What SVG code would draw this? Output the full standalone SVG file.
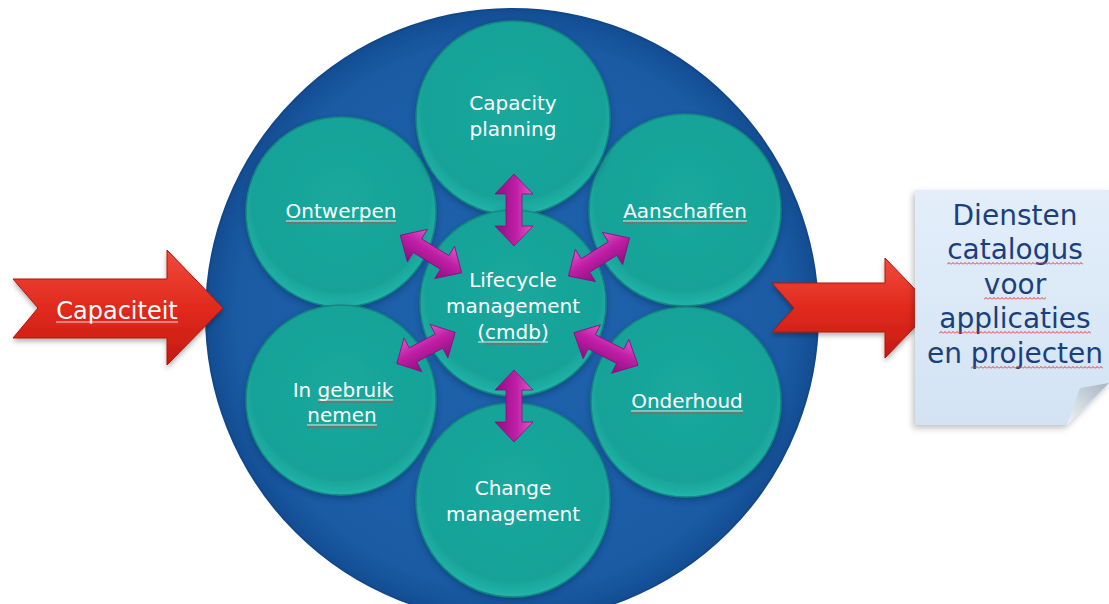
<svg xmlns="http://www.w3.org/2000/svg" xmlns:xlink="http://www.w3.org/1999/xlink" width="1109" height="604" viewBox="0 0 1109 604">
<defs>
<style>
.lbl{font-family:"DejaVu Sans",Verdana,sans-serif;font-size:20px;fill:#ffffff;text-anchor:middle}
.cap{font-size:24px}
.doc{font-family:"DejaVu Sans",Verdana,sans-serif;font-size:28px;fill:#1b3f7e;text-anchor:middle}
.ul{stroke:#ffffff;stroke-width:1;opacity:.85}
.sq{fill:url(#sqp)}
.teal{fill:url(#tg);stroke:#12867f;stroke-width:1.5;filter:url(#sh)}
.dbl{fill:url(#mg);stroke:#86107a;stroke-width:.8}
.red{fill:url(#rg);stroke:#b3150c;stroke-width:1;filter:url(#sh2)}
</style>
<radialGradient id="bg" cx="0.5" cy="0.5" r="0.5">
<stop offset="0" stop-color="#1f64ae"/>
<stop offset="0.9" stop-color="#1a5ba4"/>
<stop offset="1" stop-color="#134d92"/>
</radialGradient>
<radialGradient id="tg" cx="0.5" cy="0.45" r="0.55">
<stop offset="0" stop-color="#1aa89d"/>
<stop offset="0.85" stop-color="#18a298"/>
<stop offset="1" stop-color="#22b5aa"/>
</radialGradient>
<linearGradient id="mg" x1="0" y1="0" x2="0" y2="1">
<stop offset="0" stop-color="#e058c8"/>
<stop offset="0.45" stop-color="#bf1ea5"/>
<stop offset="1" stop-color="#8e0d80"/>
</linearGradient>
<linearGradient id="rg" x1="0" y1="0" x2="0" y2="1">
<stop offset="0" stop-color="#f04a3c"/>
<stop offset="0.5" stop-color="#e12a1e"/>
<stop offset="1" stop-color="#c51a10"/>
</linearGradient>
<linearGradient id="pg" x1="0" y1="0" x2="0" y2="1">
<stop offset="0" stop-color="#e3eefa"/>
<stop offset="1" stop-color="#d3e3f3"/>
</linearGradient>
<linearGradient id="fg" x1="0" y1="1" x2="1" y2="0">
<stop offset="0" stop-color="#eef3f8"/>
<stop offset="1" stop-color="#a7b4c2"/>
</linearGradient>
<filter id="sh" x="-10%" y="-10%" width="120%" height="125%">
<feDropShadow dx="0" dy="3" stdDeviation="3" flood-color="#0a2f5c" flood-opacity="0.45"/>
</filter>
<filter id="sh2" x="-10%" y="-10%" width="120%" height="130%">
<feDropShadow dx="0" dy="3" stdDeviation="2.5" flood-color="#000000" flood-opacity="0.3"/>
</filter>
<filter id="sh3" x="-10%" y="-10%" width="125%" height="125%">
<feDropShadow dx="-2" dy="3" stdDeviation="3" flood-color="#000000" flood-opacity="0.25"/>
</filter>
<pattern id="sqp" patternUnits="userSpaceOnUse" width="4" height="3">
<path d="M0 2.5 L2 0.5 L4 2.5" fill="none" stroke="#e4332b" stroke-width="1"/>
</pattern>
<path id="dbl" class="dbl" d="M-36 0 L-16 -19 L-16 -8 L16 -8 L16 -19 L36 0 L16 19 L16 8 L-16 8 L-16 19 Z"/>
</defs>

<g id="hub">
<circle cx="512" cy="315" r="306" fill="url(#bg)" stroke="#11488c" stroke-width="2"/>
</g>

<g id="ontwerpen">
<circle class="teal" cx="341" cy="212" r="95"/>
<text class="lbl" x="341" y="218">Ontwerpen</text>
<line class="ul" x1="286" y1="221" x2="396" y2="221"/>
<rect class="sq" transform="translate(286,221.5)" width="110" height="3"/>
</g>

<g id="aanschaffen">
<circle class="teal" cx="685" cy="210" r="96"/>
<text class="lbl" x="685" y="218">Aanschaffen</text>
<line class="ul" x1="623" y1="221" x2="747" y2="221"/>
<rect class="sq" transform="translate(623,221.5)" width="124" height="3"/>
</g>

<g id="in-gebruik-nemen">
<circle class="teal" cx="341" cy="400" r="95"/>
<text class="lbl" x="343" y="397">In gebruik</text>
<text class="lbl" x="342" y="422">nemen</text>
<line class="ul" x1="318" y1="400" x2="393" y2="400"/>
<rect class="sq" transform="translate(318,400.5)" width="75" height="3"/>
<line class="ul" x1="307" y1="425" x2="377" y2="425"/>
<rect class="sq" transform="translate(307,425.5)" width="70" height="3"/>
</g>

<g id="onderhoud">
<circle class="teal" cx="686" cy="402" r="95"/>
<text class="lbl" x="687" y="408">Onderhoud</text>
<line class="ul" x1="631" y1="411" x2="743" y2="411"/>
<rect class="sq" transform="translate(631,411.5)" width="112" height="3"/>
</g>

<g id="capacity-planning">
<circle class="teal" cx="513" cy="118" r="97"/>
<text class="lbl" x="513" y="110">Capacity</text>
<text class="lbl" x="513" y="136">planning</text>
</g>

<g id="change-management">
<circle class="teal" cx="513" cy="500" r="97"/>
<text class="lbl" x="513" y="495">Change</text>
<text class="lbl" x="513" y="521">management</text>
</g>

<g id="lifecycle-management">
<circle class="teal" cx="513" cy="303" r="93"/>
<text class="lbl" x="513" y="287">Lifecycle</text>
<text class="lbl" x="513" y="313">management</text>
<text class="lbl" x="513" y="339">(cmdb)</text>
<line class="ul" x1="478" y1="342" x2="548" y2="342"/>
<rect class="sq" transform="translate(485,342.5)" width="56" height="3"/>
</g>

<g id="connectors">
<use xlink:href="#dbl" href="#dbl" transform="translate(514,210) rotate(90)"/>
<use xlink:href="#dbl" href="#dbl" transform="translate(514,406) rotate(90)"/>
<use xlink:href="#dbl" href="#dbl" transform="translate(431,254) rotate(31.5)"/>
<use xlink:href="#dbl" href="#dbl" transform="translate(599,257) rotate(-32)"/>
<use xlink:href="#dbl" href="#dbl" transform="translate(426,348) rotate(-28) scale(0.92,1)"/>
<use xlink:href="#dbl" href="#dbl" transform="translate(606,349) rotate(27)"/>
</g>

<g id="capaciteit">
<path class="red" d="M13 279 L167 279 L167 250 L223 308 L167 365 L167 338 L13 338 L38 308 Z"/>
<text class="lbl cap" x="117" y="319">Capaciteit</text>
<line class="ul" x1="56" y1="322" x2="178" y2="322"/>
<rect class="sq" transform="translate(56,322.5)" width="122" height="3"/>
</g>

<g id="output-arrow">
<path class="red" d="M772 283 L885 283 L885 258 L933 308 L885 358 L885 332 L772 332 L794 308 Z"/>
</g>

<g id="diensten-catalogus">
<path d="M915 190 H1109 V383 L1067 425 H915 Z" fill="url(#pg)" filter="url(#sh3)"/>
<path d="M1067 425 L1080 388 L1109 383 Z" fill="url(#fg)"/>
<text class="doc" x="1015" y="225">Diensten</text>
<text class="doc" x="1015" y="259">catalogus</text>
<text class="doc" x="1015" y="294">voor</text>
<text class="doc" x="1015" y="328">applicaties</text>
<text class="doc" x="1015" y="363">en projecten</text>
<rect class="sq" transform="translate(947,262)" width="136" height="3"/>
<rect class="sq" transform="translate(984,297)" width="62" height="3"/>
<rect class="sq" transform="translate(939,331)" width="152" height="3"/>
<rect class="sq" transform="translate(971,366)" width="132" height="3"/>
</g>
</svg>
